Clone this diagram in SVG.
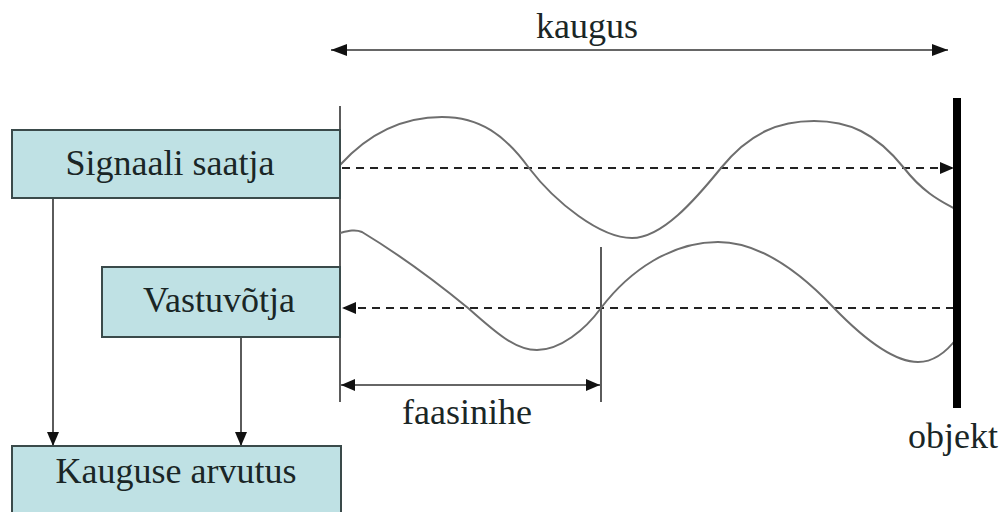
<svg xmlns="http://www.w3.org/2000/svg" width="1004" height="512" viewBox="0 0 1004 512">
<style>
.box{fill:#bfe1e4;stroke:#3a4a4a;stroke-width:2}
.lbl{font-family:"Liberation Serif","Times New Roman",serif;font-size:36px;fill:#1a2626;text-anchor:middle}
.ln{stroke:#333;stroke-width:1.6;fill:none}
.dash{stroke:#222;stroke-width:2;stroke-dasharray:8,6;fill:none}
.wave{stroke:#6e6e6e;stroke-width:2;fill:none}
</style>
<defs>
<marker id="ah2" viewBox="0 0 16 12" refX="16" refY="6" markerWidth="16" markerHeight="12" markerUnits="userSpaceOnUse" orient="auto-start-reverse">
<path d="M0,0 L16,6 L0,12 z" fill="#111"/>
</marker>
<marker id="ah3" viewBox="0 0 14 12" refX="14" refY="6" markerWidth="14" markerHeight="12" markerUnits="userSpaceOnUse" orient="auto-start-reverse">
<path d="M0,0 L14,6 L0,12 z" fill="#111"/>
</marker>
</defs>
<g id="connectors">
<line class="ln" x1="53" y1="198" x2="53" y2="446" marker-end="url(#ah3)"/>
<line class="ln" x1="241" y1="337" x2="241" y2="446" marker-end="url(#ah3)"/>
<line class="ln" x1="331" y1="50" x2="948" y2="50" stroke-width="2.5" marker-start="url(#ah2)" marker-end="url(#ah2)"/>
<line class="ln" x1="340" y1="106" x2="340" y2="402"/>
<line class="ln" x1="601" y1="247" x2="601" y2="402"/>
<line class="ln" x1="341" y1="385" x2="600" y2="385" stroke-width="2.2" marker-start="url(#ah3)" marker-end="url(#ah3)"/>
<line class="dash" x1="342" y1="168" x2="954" y2="168" marker-end="url(#ah3)"/>
<line class="dash" x1="954" y1="308" x2="342" y2="308" marker-end="url(#ah3)"/>
</g>
<g id="waves">
<path class="wave" d="M340,165 C370,132 405,117 442,117 C480,117 505,135 529,168 C555,202 600,238 632,238 C662,238 695,200 721,168 C750,132 780,121 814,121 C848,121 875,132 904,168 C925,195 945,203 957,210"/>
<path class="wave" d="M340,233 C348,231 355,229 362,232 C400,255 440,285 468,308 C495,332 515,350 537,350 C560,350 585,330 601,308 C630,270 672,242 718,242 C760,242 800,272 834,308 C865,340 895,362 918,362 C935,362 948,350 957,338"/>
</g>
<g id="objekt">
<rect x="953" y="98" width="8" height="310" fill="#000"/>
<text class="lbl" x="953" y="448">objekt</text>
</g>
<g id="kaugus"><text class="lbl" x="587" y="38">kaugus</text></g>
<g id="faasinihe"><text class="lbl" x="467" y="424">faasinihe</text></g>
<g id="signaali">
<rect class="box" x="12" y="130" width="328" height="68"/>
<text class="lbl" x="170" y="175">Signaali saatja</text>
</g>
<g id="vastuvotja">
<rect class="box" x="102" y="267" width="238" height="70"/>
<text class="lbl" x="219" y="312">Vastuvõtja</text>
</g>
<g id="arvutus">
<rect class="box" x="12" y="446" width="329" height="72"/>
<text class="lbl" x="176" y="483">Kauguse arvutus</text>
</g>
</svg>
